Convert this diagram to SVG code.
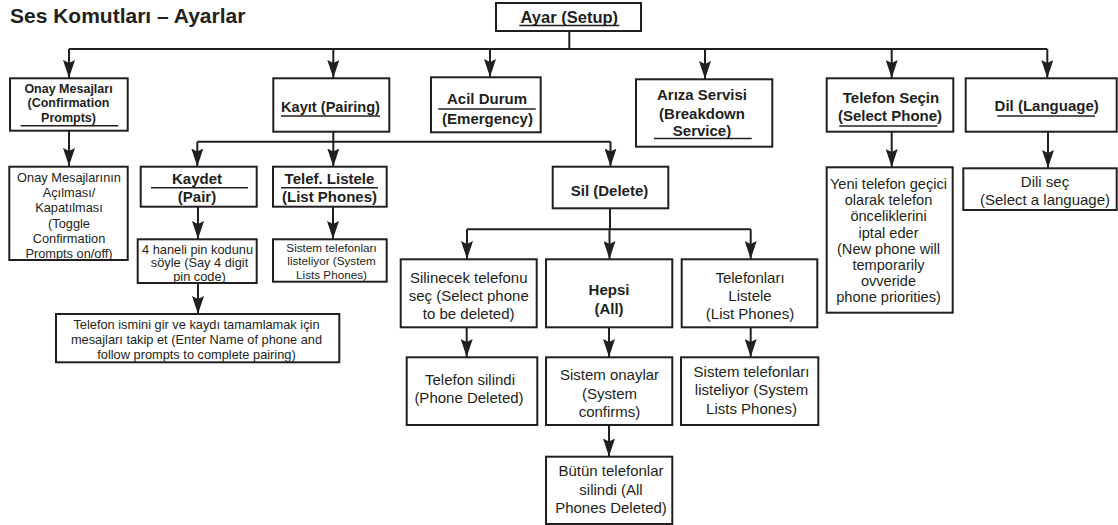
<svg xmlns="http://www.w3.org/2000/svg" width="1118" height="525" viewBox="0 0 1118 525">
<style>
.b{fill:#fff;stroke:#231f20;stroke-width:2}
.c{fill:none;stroke:#231f20;stroke-width:2}
.u{stroke:#231f20;stroke-width:1.6}
text{font-family:"Liberation Sans",Arial,sans-serif;fill:#231f20;text-anchor:middle}
.h{font-weight:bold;font-size:15px}
.r{font-size:15px}
</style>
<defs>
<marker id="ah" markerUnits="userSpaceOnUse" viewBox="0 0 18 12" refX="18" refY="6" markerWidth="18" markerHeight="12" orient="auto">
<path d="M0,0 L18,6 L0,12 L3,6 z" fill="#231f20"/>
</marker>
</defs>
<rect width="1118" height="525" fill="#fff"/>
<text x="10" y="22.7" style="text-anchor:start;font-weight:bold;font-size:21px">Ses Komutları – Ayarlar</text>

<g id="connectors">
<path class="c" d="M569.3,31 V49 M69,49 H1047.3"/>
<path class="c" marker-end="url(#ah)" d="M69,49 V78"/>
<path class="c" marker-end="url(#ah)" d="M333.3,49 V78"/>
<path class="c" marker-end="url(#ah)" d="M490,49 V77"/>
<path class="c" marker-end="url(#ah)" d="M705,49 V79"/>
<path class="c" marker-end="url(#ah)" d="M891.7,49 V78"/>
<path class="c" marker-end="url(#ah)" d="M1047.3,49 V78"/>
<path class="c" marker-end="url(#ah)" d="M69,131 V166"/>
<path class="c" d="M333.3,132 V141.7 M197.3,141.7 H610.5"/>
<path class="c" marker-end="url(#ah)" d="M197.3,141.7 V166.5"/>
<path class="c" marker-end="url(#ah)" d="M333.3,141.7 V166.5"/>
<path class="c" marker-end="url(#ah)" d="M610.5,141.7 V166.5"/>
<path class="c" marker-end="url(#ah)" d="M198,207 V239"/>
<path class="c" marker-end="url(#ah)" d="M198,283 V314"/>
<path class="c" marker-end="url(#ah)" d="M333,207 V239"/>
<path class="c" d="M610,208.3 V229.3 M467,229.3 H750.7"/>
<path class="c" marker-end="url(#ah)" d="M467,229.3 V259"/>
<path class="c" marker-end="url(#ah)" d="M609.5,229.3 V259"/>
<path class="c" marker-end="url(#ah)" d="M750.7,229.3 V259"/>
<path class="c" marker-end="url(#ah)" d="M466.7,327.3 V357"/>
<path class="c" marker-end="url(#ah)" d="M609,327.3 V357"/>
<path class="c" marker-end="url(#ah)" d="M750.7,327.3 V357"/>
<path class="c" marker-end="url(#ah)" d="M609,425 V456.5"/>
<path class="c" marker-end="url(#ah)" d="M891.7,131.7 V167"/>
<path class="c" marker-end="url(#ah)" d="M1048,131.7 V168"/>
</g>

<g id="setup">
<rect class="b" x="496" y="3" width="145" height="28"/>
<text x="569.3" y="23.2" style="font-weight:bold;font-size:16.5px">Ayar (Setup)</text>
<line class="u" x1="519.3" y1="25.5" x2="619.3" y2="25.5"/>
</g>

<g id="onay">
<rect class="b" x="10" y="78.3" width="117.7" height="52.4"/>
<text x="68.5" style="font-weight:bold;font-size:12.5px"><tspan x="68.5" y="92.8">Onay Mesajları</tspan><tspan x="68.5" y="107.3">(Confirmation</tspan><tspan x="68.5" y="121.8">Prompts)</tspan></text>
<line class="u" x1="20.7" y1="125.7" x2="118.3" y2="125.7"/>
</g>

<g id="kayit">
<rect class="b" x="273.3" y="78.3" width="116" height="53.4"/>
<text x="330.5" y="111.9" style="font-weight:bold;font-size:14.6px">Kayıt (Pairing)</text>
<line class="u" x1="281" y1="116" x2="380" y2="116"/>
</g>

<g id="acil">
<rect class="b" x="431" y="77.3" width="109.7" height="55"/>
<text class="h" x="487"><tspan x="487" y="104.4">Acil Durum</tspan><tspan x="487.5" y="123.5">(Emergency)</tspan></text>
<line class="u" x1="438.3" y1="109" x2="535.7" y2="109"/>
</g>

<g id="ariza">
<rect class="b" x="636" y="79.3" width="136.3" height="67.4"/>
<text class="h" x="702"><tspan x="702" y="100.4">Arıza Servisi</tspan><tspan x="702" y="118.7">(Breakdown</tspan><tspan x="702" y="136.2">Service)</tspan></text>
<line class="u" x1="654" y1="138.5" x2="751.7" y2="138.5"/>
</g>

<g id="telefon-secin">
<rect class="b" x="826.7" y="78.3" width="126.6" height="53.4"/>
<text class="h" x="891"><tspan x="891" y="102.6">Telefon Seçin</tspan><tspan x="890" y="121.2">(Select Phone)</tspan></text>
<line class="u" x1="839.3" y1="126" x2="937.3" y2="126"/>
</g>

<g id="dil">
<rect class="b" x="965.7" y="78.3" width="151" height="53.4"/>
<text class="h" x="1046.7" y="111.2">Dil (Language)</text>
<line class="u" x1="997.3" y1="116" x2="1095" y2="116"/>
</g>

<g id="onay-toggle">
<rect class="b" x="9.3" y="166.7" width="118.4" height="93.3"/>
<text style="font-size:12.8px"><tspan x="69" y="181.6">Onay Mesajlarının</tspan><tspan x="69" y="196.8">Açılması/</tspan><tspan x="69" y="212.2">Kapatılması</tspan><tspan x="69" y="227.6">(Toggle</tspan><tspan x="69" y="243.2">Confirmation</tspan><tspan x="69" y="258.4">Prompts on/off)</tspan></text>
</g>

<g id="kaydet">
<rect class="b" x="140.7" y="166.7" width="116" height="40"/>
<text class="h" x="197"><tspan x="197" y="184.4">Kaydet</tspan><tspan x="197" y="202.4">(Pair)</tspan></text>
<line class="u" x1="151" y1="187.7" x2="248" y2="187.7"/>
</g>

<g id="telef-listele">
<rect class="b" x="273" y="166.7" width="113.7" height="40"/>
<text class="h" x="329.5"><tspan x="329.5" y="184.4">Telef. Listele</tspan><tspan x="329.5" y="202.4">(List Phones)</tspan></text>
<line class="u" x1="281" y1="187.7" x2="378" y2="187.7"/>
</g>

<g id="pin">
<rect class="b" x="137.7" y="239.3" width="119" height="43.7"/>
<text style="font-size:12.8px"><tspan x="197.5" y="253.6">4 haneli pin kodunu</tspan><tspan x="199.5" y="267">söyle (Say 4 digit</tspan><tspan x="199.5" y="281">pin code)</tspan></text>
</g>

<g id="sistem-small">
<rect class="b" x="273" y="239.3" width="113.7" height="42.4"/>
<text style="font-size:11.7px"><tspan x="331.5" y="252.2">Sistem telefonları</tspan><tspan x="331.5" y="265.4">listeliyor (System</tspan><tspan x="331.5" y="279">Lists Phones)</tspan></text>
</g>

<g id="isim">
<rect class="b" x="56" y="314" width="283.3" height="48.3"/>
<text style="font-size:12.8px"><tspan x="196.5" y="328.6">Telefon ismini gir ve kaydı tamamlamak için</tspan><tspan x="196.5" y="343.6">mesajları takip et (Enter Name of phone and</tspan><tspan x="196.5" y="358.6">follow prompts to complete pairing)</tspan></text>
</g>

<g id="sil">
<rect class="b" x="552.7" y="166.7" width="115.6" height="41.6"/>
<text class="h" x="609.5" y="196">Sil (Delete)</text>
</g>

<g id="silinecek">
<rect class="b" x="400.7" y="259.3" width="136" height="68"/>
<text class="r"><tspan x="468.7" y="282.7">Silinecek telefonu</tspan><tspan x="468.7" y="301">seç (Select phone</tspan><tspan x="468.7" y="319.3">to be deleted)</tspan></text>
</g>

<g id="hepsi">
<rect class="b" x="546" y="259.3" width="126.3" height="68"/>
<text class="h"><tspan x="609" y="295.4">Hepsi</tspan><tspan x="609" y="314">(All)</tspan></text>
</g>

<g id="telefonlari-listele">
<rect class="b" x="681.7" y="259.3" width="135.6" height="68"/>
<text class="r"><tspan x="750" y="282.7">Telefonları</tspan><tspan x="750" y="301">Listele</tspan><tspan x="750" y="319.3">(List Phones)</tspan></text>
</g>

<g id="telefon-silindi">
<rect class="b" x="406.7" y="357.3" width="130.6" height="67.7"/>
<text class="r"><tspan x="470" y="384.7">Telefon silindi</tspan><tspan x="469" y="402.7">(Phone Deleted)</tspan></text>
</g>

<g id="sistem-onaylar">
<rect class="b" x="546" y="357.3" width="126.3" height="67.7"/>
<text class="r"><tspan x="609.5" y="379.7">Sistem onaylar</tspan><tspan x="609.5" y="398.5">(System</tspan><tspan x="609.5" y="417">confirms)</tspan></text>
</g>

<g id="sistem-telefonlari">
<rect class="b" x="681" y="357.3" width="137.3" height="67.7"/>
<text class="r"><tspan x="751.5" y="377">Sistem telefonları</tspan><tspan x="751.5" y="395.3">listeliyor (System</tspan><tspan x="751.5" y="413.7">Lists Phones)</tspan></text>
</g>

<g id="butun">
<rect class="b" x="546" y="456.7" width="126.3" height="67.3"/>
<text class="r"><tspan x="611" y="476.4">Bütün telefonlar</tspan><tspan x="611" y="494.7">silindi (All</tspan><tspan x="611" y="512.7">Phones Deleted)</tspan></text>
</g>

<g id="yeni">
<rect class="b" x="826.7" y="167.3" width="126" height="145.4"/>
<text style="font-size:14.6px"><tspan x="888.5" y="189">Yeni telefon geçici</tspan><tspan x="888.5" y="205.2">olarak telefon</tspan><tspan x="888.5" y="221.4">önceliklerini</tspan><tspan x="888.5" y="237.6">iptal eder</tspan><tspan x="888.5" y="253.8">(New phone will</tspan><tspan x="888.5" y="270">temporarily</tspan><tspan x="888.5" y="286.2">ovveride</tspan><tspan x="888.5" y="302.4">phone priorities)</tspan></text>
</g>

<g id="dili-sec">
<rect class="b" x="963.3" y="168.3" width="153.4" height="41.7"/>
<text class="r"><tspan x="1045" y="187">Dili seç</tspan><tspan x="1045" y="204.6">(Select a language)</tspan></text>
</g>
</svg>
